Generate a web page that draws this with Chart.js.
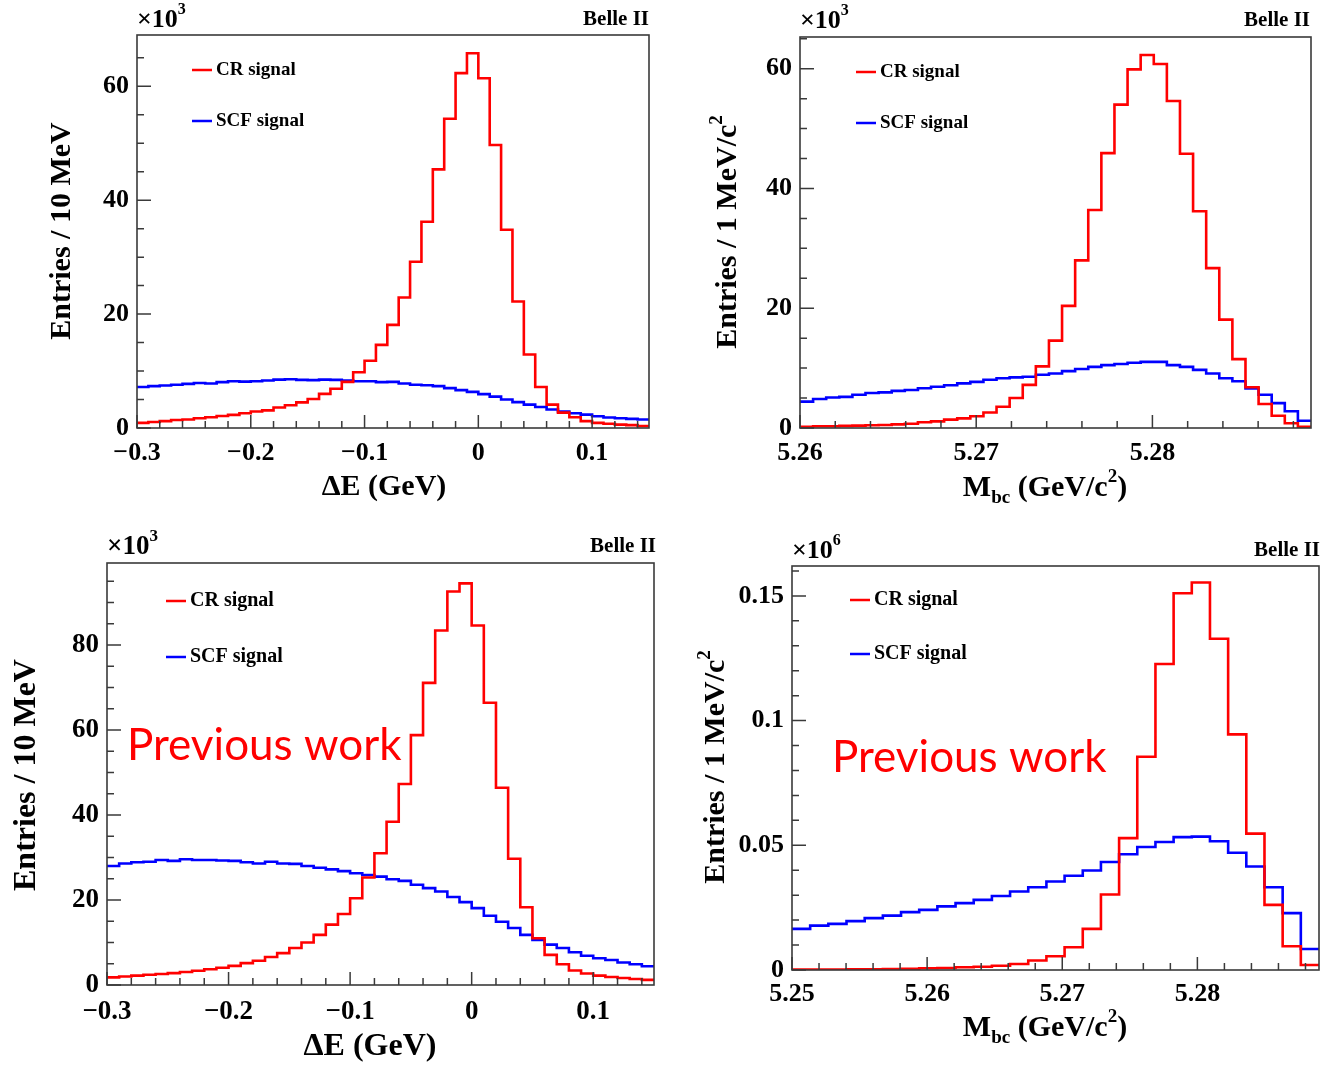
<!DOCTYPE html>
<html>
<head>
<meta charset="utf-8">
<title>CR / SCF signal distributions</title>
<script src="https://cdn.jsdelivr.net/npm/chart.js@4.4.1/dist/chart.umd.min.js"></script>
<style>
  html, body { margin: 0; padding: 0; background: #fff; }
  body { width: 1325px; height: 1067px; position: relative; overflow: hidden; }
  canvas { position: absolute; }
</style>
</head>
<body>
<canvas id="deNew"></canvas>
<canvas id="mbcNew"></canvas>
<canvas id="deOld"></canvas>
<canvas id="mbcOld"></canvas>
<script>
// binning (GeV)
const deRange = [-0.3, 0.15];      // 45 bins of 10 MeV
const mbcRangeNew = [5.26, 5.289]; // 39 bins
const mbcRangeOld = [5.25, 5.289]; // 29 bins

// top left: Delta E, units of 10^3
const deCrNew = [0.9, 1.05, 1.2, 1.4, 1.5, 1.7, 1.9, 2.1, 2.3, 2.6, 2.9, 3.1, 3.6, 4.0, 4.5,
  5.1, 6.0, 6.9, 8.1, 9.8, 11.8, 14.6, 18.1, 22.9, 29.2, 36.2, 45.4, 54.3, 62.3, 65.8,
  61.4, 49.7, 34.8, 22.2, 12.9, 7.2, 4.1, 2.7, 1.9, 1.2, 0.9, 0.75, 0.6, 0.5, 0.35];
const deScfNew = [7.2, 7.35, 7.45, 7.6, 7.75, 7.9, 7.8, 8.05, 8.2, 8.15, 8.2, 8.35, 8.5, 8.55, 8.45,
  8.4, 8.5, 8.45, 8.35, 8.2, 8.2, 8.05, 8.1, 7.8, 7.6, 7.5, 7.35, 7.0, 6.65, 6.35,
  5.95, 5.5, 5.0, 4.55, 4.1, 3.7, 3.25, 2.9, 2.6, 2.35, 2.05, 1.85, 1.7, 1.6, 1.5];

// top right: Mbc, units of 10^3
const mbcCrNew = [0.2, 0.3, 0.3, 0.35, 0.4, 0.45, 0.5, 0.6, 0.7, 0.95, 1.1, 1.4, 1.6, 1.95, 2.6,
  3.55, 5.0, 7.2, 10.3, 14.6, 20.4, 28.0, 36.4, 45.9, 54.0, 59.9, 62.3, 60.8, 54.6, 45.8,
  36.2, 26.7, 18.1, 11.5, 6.8, 4.0, 2.05, 0.8, 0.2];
const mbcScfNew = [4.4, 4.85, 5.1, 5.2, 5.55, 5.85, 5.95, 6.2, 6.35, 6.65, 6.9, 7.15, 7.45, 7.7, 8.05,
  8.3, 8.45, 8.55, 8.9, 9.1, 9.5, 9.85, 10.2, 10.5, 10.7, 10.9, 11.05, 11.05, 10.5, 10.2,
  9.7, 9.1, 8.3, 7.8, 6.6, 5.55, 4.15, 2.8, 1.2];

// bottom left: Delta E (previous work), units of 10^3
const deCrOld = [1.8, 2.0, 2.2, 2.4, 2.6, 2.8, 3.05, 3.35, 3.7, 4.05, 4.5, 5.15, 5.7, 6.6, 7.5,
  8.7, 10.0, 11.8, 14.2, 16.7, 20.4, 25.3, 31.0, 38.4, 47.3, 58.8, 71.1, 83.4, 92.6, 94.5,
  84.6, 66.4, 46.4, 29.7, 18.3, 11.0, 7.1, 4.9, 3.4, 2.7, 2.2, 1.9, 1.65, 1.4, 1.2];
const deScfOld = [28.0, 28.6, 28.9, 29.0, 29.4, 29.2, 29.6, 29.4, 29.4, 29.3, 29.2, 28.9, 28.6, 29.0, 28.6,
  28.5, 28.0, 27.6, 27.2, 26.8, 26.3, 25.9, 25.5, 24.9, 24.5, 23.6, 22.8, 22.0, 20.7, 19.5,
  18.1, 16.3, 14.9, 13.4, 11.8, 10.6, 9.5, 8.7, 7.7, 6.9, 6.3, 5.9, 5.3, 4.9, 4.4];

// bottom right: Mbc (previous work), units of 10^6
const mbcCrOld = [0.0002, 0.0002, 0.0002, 0.0003, 0.0003, 0.0004, 0.0005, 0.0007, 0.0008, 0.0011,
  0.0013, 0.0017, 0.0024, 0.0038, 0.0055, 0.0091, 0.0165, 0.0303, 0.0529, 0.0855,
  0.1227, 0.1511, 0.1554, 0.1328, 0.0945, 0.0547, 0.0261, 0.0095, 0.0020];
const mbcScfOld = [0.0165, 0.0178, 0.0185, 0.0196, 0.0208, 0.0218, 0.0232, 0.0241, 0.0255, 0.0268,
  0.0281, 0.0297, 0.0315, 0.0332, 0.0355, 0.0378, 0.0399, 0.0433, 0.0464, 0.0493,
  0.0513, 0.0533, 0.0535, 0.0516, 0.0470, 0.0415, 0.0332, 0.0228, 0.0084];

// axis ticks
const deTicks = [-0.3, -0.2, -0.1, 0, 0.1];
const mbcTicksNew = [5.26, 5.27, 5.28];
const mbcTicksOld = [5.25, 5.26, 5.27, 5.28];
const yTicksNew = [0, 20, 40, 60];
const yTicksDeOld = [0, 20, 40, 60, 80];
const yTicksMbcOld = [0, 0.05, 0.1, 0.15];
const seriesNames = ['CR signal', 'SCF signal'];

const SERIF = '"Liberation Serif", "DejaVu Serif", serif';
const RED = '#ff0000';
const BLUE = '#0000ff';
const AXIS = '#3a3a3a';

function histPoints(range, values) {
    const n = values.length;
    const w = (range[1] - range[0]) / n;
    const pts = values.map((v, i) => ({ x: range[0] + i * w, y: v }));
    pts.push({ x: range[1], y: values[n - 1] });
    return pts;
}

function fmt(v) {
    return v < 0 ? '\u2212' + String(Math.abs(v)) : String(v);
}

// draw text made of pieces, some of them sub/superscript
function rich(ctx, parts, x, y, size, align) {
    const font = p => 'bold ' + Math.round(p.sub || p.sup ? size * 0.62 : size) + 'px ' + SERIF;
    let w = 0;
    parts.forEach(p => { ctx.font = font(p); w += ctx.measureText(p.t).width; });
    let cx = align === 'center' ? x - w / 2 : (align === 'right' ? x - w : x);
    ctx.textAlign = 'left';
    ctx.textBaseline = 'middle';
    parts.forEach(p => {
        ctx.font = font(p);
        const dy = p.sub ? size * 0.32 : (p.sup ? -size * 0.38 : 0);
        ctx.fillText(p.t, cx, y + dy);
        cx += ctx.measureText(p.t).width;
    });
}

const rootStyle = {
    id: 'rootStyle',
    afterDatasetsDraw(chart, args, o) {
        const ctx = chart.ctx;
        const a = chart.chartArea;
        const xs = chart.scales.x, ys = chart.scales.y;
        const ox = o.box[0], oy = o.box[1];
        ctx.save();

        // ticks
        ctx.strokeStyle = AXIS;
        ctx.lineWidth = 1.5;
        ctx.beginPath();
        const isMajor = (v, list, step) => list.some(m => Math.abs(m - v) < step / 10);
        let k0 = Math.ceil(xs.min / o.xMinor - 1e-6);
        for (let k = k0; k * o.xMinor <= xs.max + 1e-9; k++) {
            const v = k * o.xMinor;
            const px = xs.getPixelForValue(v);
            const len = isMajor(v, o.xTicks, o.xMinor) ? 13 : 7;
            ctx.moveTo(px, a.bottom);
            ctx.lineTo(px, a.bottom - len);
        }
        k0 = Math.ceil(ys.min / o.yMinor - 1e-6);
        for (let k = k0; k * o.yMinor <= ys.max + 1e-9; k++) {
            const v = k * o.yMinor;
            const py = ys.getPixelForValue(v);
            const len = isMajor(v, o.yTicks, o.yMinor) ? 14 : 7;
            ctx.moveTo(a.left, py);
            ctx.lineTo(a.left + len, py);
        }
        ctx.stroke();

        // frame
        ctx.strokeStyle = AXIS;
        ctx.lineWidth = 1.6;
        ctx.strokeRect(a.left, a.top, a.right - a.left, a.bottom - a.top);

        ctx.fillStyle = '#000';
        ctx.font = 'bold ' + o.tickSize + 'px ' + SERIF;
        ctx.textBaseline = 'middle';
        ctx.textAlign = 'center';
        o.xTicks.forEach(v => ctx.fillText(fmt(v), xs.getPixelForValue(v), o.xLabelY - oy));
        ctx.textAlign = 'right';
        o.yTicks.forEach(v => ctx.fillText(fmt(v), a.left - 8, ys.getPixelForValue(v)));

        // titles
        rich(ctx, o.xTitle, o.xTitlePos[0] - ox, o.xTitlePos[1] - oy, o.titleSize, 'center');
        ctx.save();
        ctx.translate(o.yTitlePos[0] - ox, o.yTitlePos[1] - oy);
        ctx.rotate(-Math.PI / 2);
        rich(ctx, o.yTitle, 0, 0, o.titleSize, 'center');
        ctx.restore();

        // exponent and experiment label
        rich(ctx, [{ t: '\u00d710' }, { t: o.exponent, sup: true }], a.left, o.topY - oy, o.tickSize, 'left');
        rich(ctx, [{ t: 'Belle II' }], o.belleX - ox, o.topY - oy, o.belleSize, 'right');

        // legend
        chart.data.datasets.forEach((ds, i) => {
            const ly = o.legend.y[i] - oy;
            const lx = o.legend.x - ox;
            ctx.strokeStyle = ds.borderColor;
            ctx.lineWidth = 2.5;
            ctx.beginPath();
            ctx.moveTo(lx, ly);
            ctx.lineTo(lx + 20, ly);
            ctx.stroke();
            ctx.fillStyle = '#000';
            rich(ctx, [{ t: ds.label }], lx + 24, ly, o.legend.size, 'left');
        });

        if (o.note) {
            ctx.fillStyle = RED;
            ctx.font = o.note.size + 'px Lato, "Open Sans", sans-serif';
            ctx.textAlign = 'left';
            ctx.textBaseline = 'middle';
            ctx.fillText(o.note.text, o.note.x - ox, o.note.y - oy);
        }
        ctx.restore();
    }
};

const dETitle = [{ t: '\u0394E (GeV)' }];
const mbcTitle = [{ t: 'M' }, { t: 'bc', sub: true }, { t: ' (GeV/c' }, { t: '2', sup: true }, { t: ')' }];
const yTitleDE = [{ t: 'Entries / 10 MeV' }];
const yTitleMbc = [{ t: 'Entries / 1 MeV/c' }, { t: '2', sup: true }];

const panels = [
    { id: 'deNew', box: [0, 0, 662, 530], frame: [137, 35, 649, 428], xRange: deRange, yMax: 69,
      cr: deCrNew, scf: deScfNew, xTicks: deTicks, xMinor: 0.02, yTicks: yTicksNew, yMinor: 5,
      exponent: '3', xTitle: dETitle, yTitle: yTitleDE, xLabelY: 453, xTitlePos: [384, 487], yTitlePos: [62, 231],
      topY: 20, belleX: 649, legend: { x: 192, y: [70, 121], size: 19 }, tickSize: 26, titleSize: 30, belleSize: 21 },
    { id: 'mbcNew', box: [662, 0, 663, 530], frame: [800, 37, 1311, 428], xRange: mbcRangeNew, yMax: 65.3,
      cr: mbcCrNew, scf: mbcScfNew, xTicks: mbcTicksNew, xMinor: 0.002, yTicks: yTicksNew, yMinor: 5,
      exponent: '3', xTitle: mbcTitle, yTitle: yTitleMbc, xLabelY: 453, xTitlePos: [1045, 488], yTitlePos: [728, 232],
      topY: 21, belleX: 1310, legend: { x: 856, y: [72, 123], size: 19 }, tickSize: 26, titleSize: 30, belleSize: 21 },
    { id: 'deOld', box: [0, 530, 662, 537], frame: [107, 563, 654, 985], xRange: deRange, yMax: 99.3,
      cr: deCrOld, scf: deScfOld, xTicks: deTicks, xMinor: 0.02, yTicks: yTicksDeOld, yMinor: 5,
      exponent: '3', xTitle: dETitle, yTitle: yTitleDE, xLabelY: 1012, xTitlePos: [370, 1047], yTitlePos: [27, 775],
      topY: 547, belleX: 656, legend: { x: 166, y: [601, 657], size: 20 }, tickSize: 27, titleSize: 32, belleSize: 21,
      note: { text: 'Previous work', x: 127, y: 746, size: 44 } },
    { id: 'mbcOld', box: [662, 530, 663, 537], frame: [792, 566, 1319, 970], xRange: mbcRangeOld, yMax: 0.162,
      cr: mbcCrOld, scf: mbcScfOld, xTicks: mbcTicksOld, xMinor: 0.002, yTicks: yTicksMbcOld, yMinor: 0.01,
      exponent: '6', xTitle: mbcTitle, yTitle: yTitleMbc, xLabelY: 994, xTitlePos: [1045, 1028], yTitlePos: [716, 767],
      topY: 551, belleX: 1320, legend: { x: 850, y: [600, 654], size: 20 }, tickSize: 26, titleSize: 30, belleSize: 21,
      note: { text: 'Previous work', x: 832, y: 758, size: 44 } }
];

panels.forEach(p => {
    const canvas = document.getElementById(p.id);
    canvas.width = p.box[2];
    canvas.height = p.box[3];
    canvas.style.left = p.box[0] + 'px';
    canvas.style.top = p.box[1] + 'px';

    new Chart(canvas, {
        type: 'line',
        data: {
            datasets: [
                { label: seriesNames[0], data: histPoints(p.xRange, p.cr), borderColor: RED },
                { label: seriesNames[1], data: histPoints(p.xRange, p.scf), borderColor: BLUE }
            ]
        },
        options: {
            responsive: false,
            animation: false,
            devicePixelRatio: 1,
            parsing: false,
            layout: {
                padding: {
                    left: p.frame[0] - p.box[0],
                    top: p.frame[1] - p.box[1],
                    right: p.box[0] + p.box[2] - p.frame[2],
                    bottom: p.box[1] + p.box[3] - p.frame[3]
                }
            },
            elements: {
                line: { stepped: true, borderWidth: 2.6, fill: false, tension: 0 },
                point: { radius: 0, hoverRadius: 0 }
            },
            scales: {
                x: { type: 'linear', min: p.xRange[0], max: p.xRange[1], display: false },
                y: { type: 'linear', min: 0, max: p.yMax, display: false }
            },
            plugins: {
                legend: { display: false },
                tooltip: { enabled: false },
                rootStyle: p
            }
        },
        plugins: [rootStyle]
    });
});
</script>
</body>
</html>
